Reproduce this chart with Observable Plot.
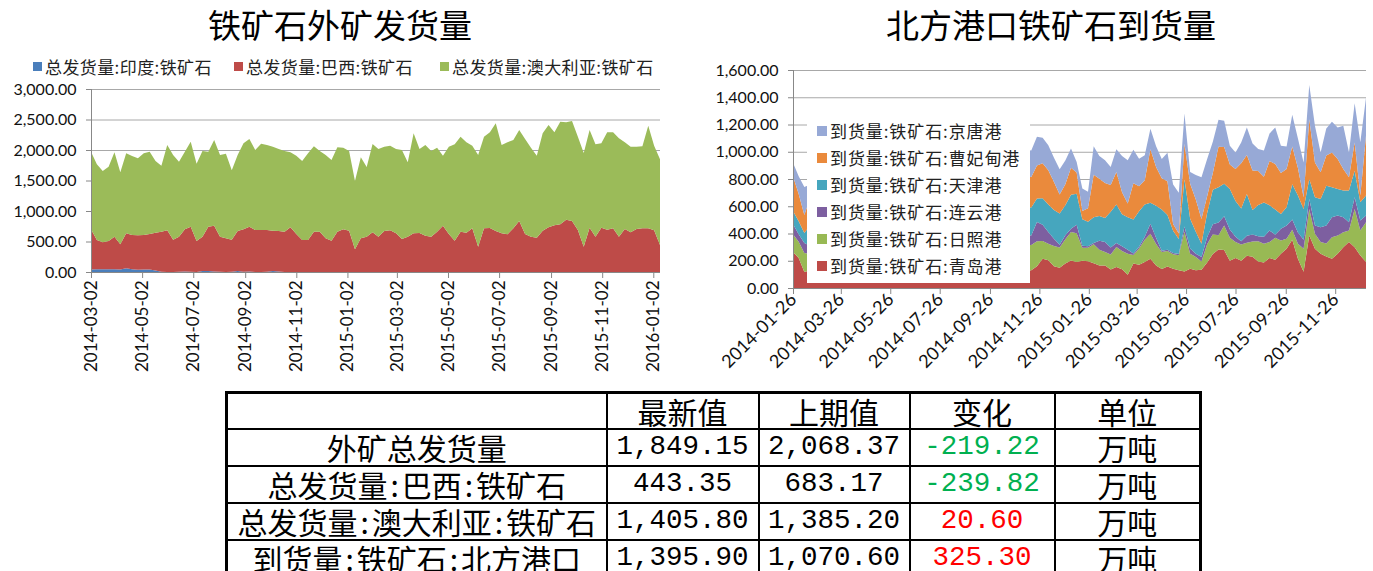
<!DOCTYPE html>
<html><head><meta charset="utf-8">
<script src="https://cdn.jsdelivr.net/npm/d3@7"></script>
<script src="https://cdn.jsdelivr.net/npm/@observablehq/plot@0.6"></script>
<style>
html,body{margin:0;padding:0;background:#fff;}
#page{position:relative;width:1373px;height:571px;overflow:hidden;background:#fff;font-family:"Noto Sans CJK SC",sans-serif;color:#000;}
.title{position:absolute;font-size:33px;line-height:1;white-space:nowrap;text-align:center;}
.leg{position:absolute;font-size:17px;line-height:1;white-space:nowrap;display:flex;align-items:center;color:#222;letter-spacing:0.4px;}
.sw{display:inline-block;width:9px;height:9px;margin-right:3px;flex:none;}
#chartL{position:absolute;left:0;top:80px;}
#chartR{position:absolute;left:690px;top:60px;}
#legR{position:absolute;left:807px;top:117px;width:223px;height:166px;background:#fff;}
#legR .leg{letter-spacing:0.9px;}
#tbl{position:absolute;left:225px;top:391px;width:974px;border-collapse:collapse;table-layout:fixed;border:3px solid #000;}
#tbl td{border:2px solid #000;padding:0;text-align:center;line-height:1;font-size:30px;white-space:nowrap;}
#tbl td.num{font-family:"Liberation Mono",monospace;font-size:27.5px;}
.c{margin:0 3px;}
</style></head>
<body><div id="page">
<div class="title" style="left:140px;top:8px;width:400px;">铁矿石外矿发货量</div>
<div class="title" style="left:851px;top:8px;width:400px;">北方港口铁矿石到货量</div>
<div id="legL"></div>
<div id="chartL"></div>
<div id="chartR"></div>
<div id="legR"></div>
<table id="tbl"></table>
</div>
<script>
// ---------- Left chart data (weekly, from 2014-03-02) ----------
const leftStart = "2014-03-02";
const leftSeries = ["总发货量:印度:铁矿石","总发货量:巴西:铁矿石","总发货量:澳大利亚:铁矿石"];
const leftColors = ["#4A7EBB","#BE4B48","#9BBB59"];
const indiaVals = [
40,45,45,45,45,40,60,45,35,40,
40,25,5,0,0,5,10,5,0,15,
15,10,5,0,5,15,5,10,0,0,
5,15,10,0,0,0,0,0,0,0,
0,0,0,0,0,0,0,0,0,0,
0,0,0,0,0,0,0,0,0,0,
0,0,0,0,0,0,0,0,0,0,
0,0,0,0,0,0,0,0,0,0,
0,0,0,0,0,0,0,0,0,0,
0,0,0,0,0,0,0,0];
const brazilVals = [
660,480,441,463,534,414,574,562,566,567,
583,620,656,683,530,574,689,738,508,564,
728,750,574,552,525,657,694,733,689,689,
684,663,662,661,732,623,525,525,661,661,
552,514,661,699,678,372,552,579,650,579,
672,683,634,541,579,634,639,596,579,661,
760,623,514,661,645,716,415,716,721,672,
634,617,716,836,623,579,563,678,732,765,
781,858,836,689,415,727,579,727,694,716,
579,705,650,705,716,716,683.17,443.35];
const australiaVals = [
1273,1240,1170,1219,1383,1180,1311,1295,1262,1338,
1350,1175,1082,1399,1388,1230,1274,1394,1268,1405,
1230,1404,1339,1388,1137,1246,1410,1437,1311,1415,
1393,1377,1344,1323,1230,1284,1295,1420,1399,1323,
1366,1322,1383,1339,1306,1120,1328,1142,1450,1437,
1383,1388,1382,1459,1219,1639,1377,1486,1405,1377,
1147,1432,1579,1558,1481,1355,1503,1503,1569,1765,
1448,1509,1448,1492,1557,1459,1344,1595,1678,1525,
1683,1596,1639,1530,1535,1601,1514,1382,1596,1574,
1612,1421,1405,1350,1344,1683,1385.20,1405.80];
const leftTickLabels = ["2014-03-02","2014-05-02","2014-07-02","2014-09-02","2014-11-02","2015-01-02","2015-03-02","2015-05-02","2015-07-02","2015-09-02","2015-11-02","2016-01-02"];
const leftYTicks = [0,500,1000,1500,2000,2500,3000];

// ---------- Right chart data (weekly, from 2014-01-26) ----------
const rightStart = "2014-01-26";
const rightSeries = ["到货量:铁矿石:青岛港","到货量:铁矿石:日照港","到货量:铁矿石:连云港","到货量:铁矿石:天津港","到货量:铁矿石:曹妃甸港","到货量:铁矿石:京唐港"];
const rightColors = ["#BE4B48","#98B954","#7D5FA0","#46A6BE","#EA8A3C","#97A9D6"];
const qingdaoVals = [
265,220,117,
130,175,205,220,185,210,235,195,180,160,205,215,240,210,185,170,200,230,205,190,180,205,215,190,170,160,185,200,210,190,165,150,160,185,170,150,140,130,125,
130,160,215,203,159,149,179,201,191,200,
196,181,166,166,135,154,137,98,179,171,
191,215,166,139,157,142,130,122,142,130,
134,188,249,283,278,200,220,200,237,229,
195,188,220,207,251,288,354,215,120,385,
288,251,232,215,251,300,337,300,239,190];
const rizhaoVals = [
130,120,140,
120,130,145,150,130,140,155,140,130,120,140,150,160,140,130,125,140,150,140,130,120,140,150,140,130,120,140,150,160,150,140,130,150,170,180,190,180,190,190,
185,183,130,122,149,149,178,210,210,95,
100,140,115,98,110,147,135,154,63,118,
164,184,157,125,115,105,110,290,110,98,
61,134,146,105,181,168,117,120,95,112,
149,136,117,161,98,73,73,109,168,195,
110,86,95,158,134,110,85,280,183,293];
const lianyunVals = [
75,55,73,
60,55,70,75,60,65,70,75,60,55,70,65,60,65,70,75,60,60,70,70,55,60,70,75,60,65,70,70,60,55,70,75,60,65,70,80,85,80,75,
70,141,120,86,54,20,30,24,64,15,
10,10,66,74,53,29,34,29,12,14,
22,73,46,10,9,10,10,40,37,24,
32,51,73,92,68,61,39,24,51,52,
36,52,85,22,85,98,75,83,66,74,
61,109,132,147,147,110,61,86,73,49];
const tianjinVals = [
95,95,74,
150,160,170,180,170,165,150,160,175,180,170,160,150,165,170,185,170,160,150,160,175,180,170,160,150,160,170,185,170,160,150,160,170,180,190,200,200,200,205,
205,172,193,201,210,228,220,250,227,195,
180,188,181,176,262,282,235,238,248,260,
235,154,235,303,255,163,110,348,220,160,
97,178,254,259,239,298,263,239,307,180,
230,251,185,186,110,134,259,271,226,146,
207,208,292,219,195,195,232,195,134,146];
const caofeidianVals = [
255,200,132,
200,210,225,230,220,205,200,215,220,230,225,210,200,210,220,235,220,210,195,210,220,230,220,205,200,210,225,230,220,210,200,210,220,230,230,235,230,230,225,
225,244,257,252,206,141,154,198,155,60,
100,313,274,257,196,239,161,102,266,183,
178,392,284,228,247,50,40,258,257,238,
183,122,122,298,268,180,234,332,286,290,
249,190,325,334,300,280,278,202,86,439,
256,195,222,256,219,158,97,207,49,439];
const jingtangVals = [
100,130,205,
100,110,120,110,100,115,120,110,100,105,120,110,100,110,125,110,100,110,120,105,100,110,120,110,100,115,120,110,100,110,120,110,100,110,150,180,190,195,195,
195,210,188,183,178,184,174,140,78,165,
120,208,167,166,132,167,267,316,247,203,
184,151,152,142,210,290,300,222,85,180,
305,273,229,197,193,137,122,153,202,198,
161,193,202,268,200,166,232,218,256,251,
268,146,198,225,232,317,183,288,392.6,278.9];
const rightTickLabels = ["2014-01-26","2014-03-26","2014-05-26","2014-07-26","2014-09-26","2014-11-26","2015-01-26","2015-03-26","2015-05-26","2015-07-26","2015-09-26","2015-11-26"];
const rightYTicks = [0,200,400,600,800,1000,1200,1400,1600];

// ---------- Table ----------
const tableHeader = ["","最新值","上期值","变化","单位"];
const tableRowNames = ["外矿总发货量","总发货量:巴西:铁矿石","总发货量:澳大利亚:铁矿石","到货量:铁矿石:北方港口"];
const latestVals = ["1,849.15","443.35","1,405.80","1,395.90"];
const prevVals = ["2,068.37","683.17","1,385.20","1,070.60"];
const changeVals = ["-219.22","-239.82","20.60","325.30"];
const unitVals = ["万吨","万吨","万吨","万吨"];

// ---------- build ----------
function weekly(start, n){ const t0 = new Date(start).getTime(); return Array.from({length:n},(_,i)=>new Date(t0 + i*7*864e5)); }
function longData(series, valueArrays, dates){
  const out = [];
  series.forEach((s,j)=>valueArrays[j].forEach((v,i)=>out.push({date:dates[i], series:s, value:v})));
  return out;
}
const fmtY = d3.format(",.2f");
const fmtD = d3.utcFormat("%Y-%m-%d");
const axisStyle = {fontFamily:"Lato, sans-serif", fontSize:"16px", color:"#000", background:"transparent", overflow:"visible"};

// Left
const leftDates = weekly(leftStart, brazilVals.length);
const leftData = longData(leftSeries, [indiaVals, brazilVals, australiaVals], leftDates);
const plotL = Plot.plot({
  width:680, height:300, marginLeft:91, marginRight:20, marginTop:9, marginBottom:108,
  x:{type:"utc", domain:[leftDates[0], leftDates[leftDates.length-1]]},
  y:{domain:[0,3000]},
  color:{domain:leftSeries, range:leftColors},
  style:axisStyle,
  marks:[
    Plot.gridY(leftYTicks, {stroke:"#a8a8a8", strokeOpacity:1}),
    Plot.areaY(leftData, {x:"date", y:"value", z:"series", fill:"series", order:leftSeries, curve:"linear"}),
    Plot.ruleX([leftDates[0]], {stroke:"#888"}),
    Plot.ruleY([0], {stroke:"#888"}),
    Plot.axisY(leftYTicks, {tickFormat:fmtY, tickSize:5, tickPadding:10, stroke:"#888", fill:"#111", label:null}),
    Plot.axisX(leftTickLabels.map(s=>new Date(s)), {tickFormat:fmtD, tickRotate:-90, tickSize:6, tickPadding:2, stroke:"#888", fill:"#111", fontSize:17, label:null})
  ]
});
document.getElementById("chartL").append(plotL);

// Right
const rightDates = weekly(rightStart, qingdaoVals.length);
const rightData = longData(rightSeries, [qingdaoVals, rizhaoVals, lianyunVals, tianjinVals, caofeidianVals, jingtangVals], rightDates);
const plotR = Plot.plot({
  width:683, height:320, marginLeft:103, marginRight:7, marginTop:10, marginBottom:92,
  x:{type:"utc", domain:[rightDates[0], rightDates[rightDates.length-1]]},
  y:{domain:[0,1600]},
  color:{domain:rightSeries, range:rightColors},
  style:axisStyle,
  marks:[
    Plot.gridY(rightYTicks, {stroke:"#a8a8a8", strokeOpacity:1}),
    Plot.areaY(rightData, {x:"date", y:"value", z:"series", fill:"series", order:rightSeries, curve:"linear"}),
    Plot.ruleX([rightDates[0]], {stroke:"#888"}),
    Plot.ruleY([0], {stroke:"#888"}),
    Plot.axisY(rightYTicks, {tickFormat:fmtY, tickSize:5, tickPadding:10, stroke:"#888", fill:"#111", label:null}),
    Plot.axisX(rightTickLabels.map(s=>new Date(s)), {tickFormat:fmtD, tickRotate:-45, tickSize:6, tickPadding:2, stroke:"#888", fill:"#111", fontSize:18, label:null})
  ]
});
document.getElementById("chartR").append(plotR);

// Left legend
const legLPos = [[33,58],[234,58],[440,58]];
const legL = document.getElementById("legL");
leftSeries.forEach((s,i)=>{
  const d = document.createElement("div");
  d.className = "leg";
  d.style.left = legLPos[i][0]+"px"; d.style.top = legLPos[i][1]+"px";
  d.innerHTML = `<span class="sw" style="background:${leftColors[i]}"></span><span>${s}</span>`;
  legL.append(d);
});
// Right legend (top to bottom reversed)
const legR = document.getElementById("legR");
rightSeries.slice().reverse().forEach((s,i)=>{
  const col = rightColors[rightSeries.length-1-i];
  const d = document.createElement("div");
  d.className = "leg";
  d.style.left = "10px"; d.style.top = (5 + i*27)+"px";
  d.innerHTML = `<span class="sw" style="width:10px;height:10px;background:${col}"></span><span>${s}</span>`;
  legR.append(d);
});

// Table
const colW = [380,152,151,145,146];
const rowH = [36,37,37,37,37];
const tbl = document.getElementById("tbl");
const cg = document.createElement("colgroup");
colW.forEach(w=>{const c=document.createElement("col"); c.style.width=w+"px"; cg.append(c);});
tbl.append(cg);
const withColons = s => s.split(":").join('<span class="c">:</span>');
let tr = document.createElement("tr"); tr.style.height = rowH[0]+"px";
tableHeader.forEach(h=>{const td=document.createElement("td"); td.textContent=h; tr.append(td);});
tbl.append(tr);
tableRowNames.forEach((name,i)=>{
  const r = document.createElement("tr"); r.style.height = rowH[i+1]+"px";
  const cells = [
    {html:withColons(name)},
    {text:latestVals[i], cls:"num"},
    {text:prevVals[i], cls:"num"},
    {text:changeVals[i], cls:"num", color: changeVals[i].startsWith("-") ? "#00B050" : "#FF0000"},
    {text:unitVals[i]}
  ];
  cells.forEach(c=>{
    const td=document.createElement("td");
    if(c.html) td.innerHTML=c.html; else td.textContent=c.text;
    if(c.cls) td.className=c.cls;
    if(c.color) td.style.color=c.color;
    r.append(td);
  });
  tbl.append(r);
});
</script>
</body></html>
